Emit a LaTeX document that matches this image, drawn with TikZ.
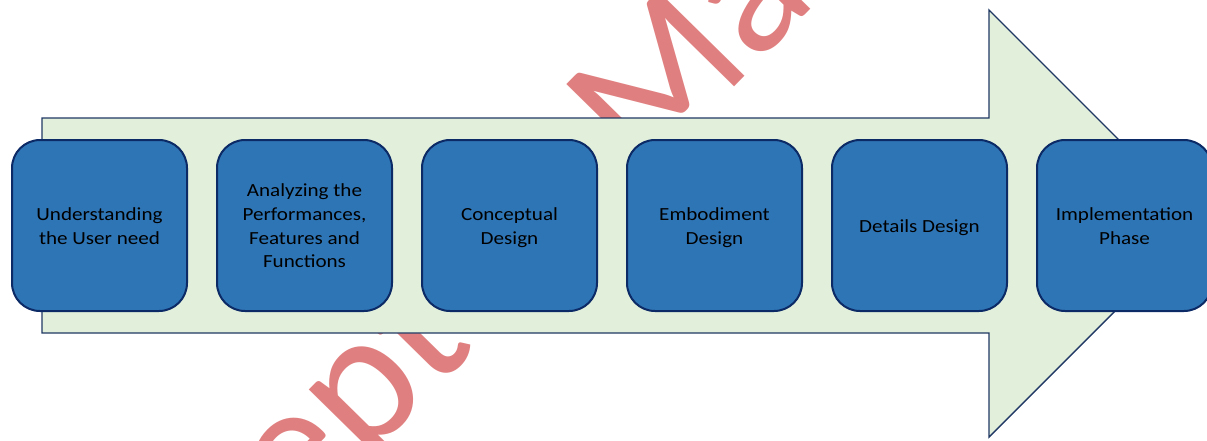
\documentclass[tikz,border=0pt]{standalone}
\usepackage{fontspec}
\setmainfont{Carlito}[FakeStretch=1.14]
\newfontfamily\stampfont{Carlito}
\definecolor{arrowfill}{HTML}{E2EFDA}
\definecolor{arrowline}{HTML}{1F3864}
\definecolor{boxfill}{HTML}{2E75B6}
\definecolor{boxline}{HTML}{0B2A66}
\definecolor{stamp}{HTML}{E07F7F}
% struts that balance the first and last line of a stage label
\newcommand\topstrut{\rule{0pt}{20.5pt}}
\newcommand\botstrut{\rule[-7pt]{0pt}{7pt}}
\begin{document}
\begin{tikzpicture}[x=1pt,y=-1pt,
  stagebox/.style={draw=boxline, line width=2pt, fill=boxfill,
    rounded corners=28pt, minimum width=175pt, minimum height=171pt,
    align=center, inner sep=0pt, text=black,
    font=\fontsize{18.5}{23.6}\selectfont},
  bigarrow/.style={draw=arrowline, line width=1.4pt, fill=arrowfill, line join=miter}]
  \useasboundingbox (0,0) rectangle (1207,440);
  \clip (0,0) rectangle (1207,440);

  % stamp lettering behind the diagram
  \node[anchor=base west, rotate=45.5, text=stamp, inner sep=0pt,
        font=\stampfont\fontsize{189}{189}\selectfont] (stamp) at (110,722) {Accepted Manuscript};

  % process arrow
  \draw[bigarrow] (42,118) -- (989,118) -- (989,10) -- (1202.5,223.5)
    -- (989,437) -- (989,333) -- (42,333) -- cycle;

  % stages
  \node[stagebox] (s1) at (99.5,225.5)  {\topstrut Understanding\\the User need\botstrut};
  \node[stagebox] (s2) at (304.5,225.5) {\topstrut Analyzing the\\Performances,\\Features and\\Functions\botstrut};
  \node[stagebox] (s3) at (509.5,225.5) {\topstrut Conceptual\\Design\botstrut};
  \node[stagebox] (s4) at (714.5,225.5) {\topstrut Embodiment\\Design\botstrut};
  \node[stagebox] (s5) at (919.5,225.5) {\topstrut Details Design\botstrut};
  \node[stagebox] (s6) at (1124.5,225.5) {\topstrut Implementation\\Phase\botstrut};
\end{tikzpicture}
\end{document}
